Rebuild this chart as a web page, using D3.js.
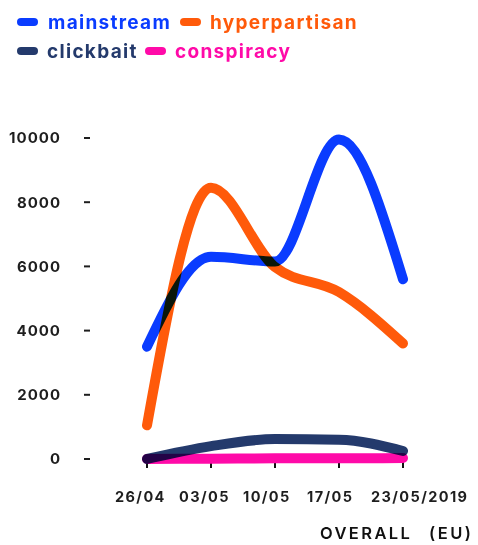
<!DOCTYPE html>
<html>
<head>
<meta charset="utf-8">
<script src="https://cdn.jsdelivr.net/npm/d3@7"></script>
<style>
  html, body { margin: 0; padding: 0; background: #fff; }
  svg { display: block; }
  .lbl { font-family: Inter, "DejaVu Sans", sans-serif; font-weight: 700; }
</style>
</head>
<body>
<svg id="chart" width="478" height="545"></svg>
<script>
const categories = ["26/04", "03/05", "10/05", "17/05", "23/05/2019"];
const seriesNames = ["mainstream", "hyperpartisan", "clickbait", "conspiracy"];
const mainstream = [3500, 6300, 6150, 9950, 5600];
const hyperpartisan = [1050, 8450, 5980, 5200, 3600];
const clickbait = [0, 400, 620, 600, 250];
const conspiracy = [0, 10, 20, 20, 30];
const yTicks = [0, 2000, 4000, 6000, 8000, 10000];
const colors = ["#0a3cff", "#ff5a0a", "#243a6c", "#ff0aa8"];
const titleParts = ["OVERALL", "(EU)"];

const seriesValues = [mainstream, hyperpartisan, clickbait, conspiracy];

const svg = d3.select("#chart");
const x = d3.scalePoint().domain(categories).range([147, 403]);
const y = d3.scaleLinear().domain([0, 10000]).range([459, 138]);

// Y axis labels and dash ticks
const yg = svg.append("g");
yTicks.forEach(t => {
  yg.append("text").attr("class", "lbl")
    .attr("x", 61).attr("y", y(t)).attr("dy", "0.36em")
    .attr("text-anchor", "end").attr("font-size", 15)
    .attr("letter-spacing", 1.0).attr("fill", "#1e1e1e").text(t);
  yg.append("line").attr("x1", 84).attr("x2", 90)
    .attr("y1", y(t)).attr("y2", y(t))
    .attr("stroke", "#1e1e1e").attr("stroke-width", 2);
});

// X axis ticks and labels
const xg = svg.append("g");
categories.forEach(c => {
  xg.append("line").attr("x1", x(c)).attr("x2", x(c))
    .attr("y1", y(0) + 1).attr("y2", y(0) + 9)
    .attr("stroke", "#111").attr("stroke-width", 2);
  xg.append("text").attr("class", "lbl")
    .attr("x", x(c) - 32).attr("y", 502)
    .attr("font-size", 14.5).attr("letter-spacing", 1.4)
    .attr("fill", "#1e1e1e").text(c);
});

// Lines
const line = d3.line()
  .x((d, i) => x(categories[i]))
  .y(d => y(d))
  .curve(d3.curveMonotoneX);

const lg = svg.append("g").style("isolation", "isolate");
seriesValues.forEach((vals, k) => {
  lg.append("path").datum(vals)
    .attr("d", line)
    .attr("fill", "none")
    .attr("stroke", colors[k])
    .attr("stroke-width", 10)
    .attr("stroke-linecap", "round")
    .attr("stroke-linejoin", "round")
    .style("mix-blend-mode", "multiply");
});

// Legend
const legendPos = [
  {sx: 17, tx: 48, y: 22},
  {sx: 180, tx: 210, y: 22},
  {sx: 17, tx: 47, y: 51},
  {sx: 145, tx: 175, y: 51}
];
seriesNames.forEach((n, k) => {
  const p = legendPos[k];
  svg.append("rect").attr("x", p.sx).attr("y", p.y - 4)
    .attr("width", 21).attr("height", 8).attr("rx", 4)
    .attr("fill", colors[k]);
  svg.append("text").attr("class", "lbl")
    .attr("x", p.tx).attr("y", p.y).attr("dy", "0.36em")
    .attr("font-size", 19).attr("letter-spacing", 1.3)
    .attr("fill", colors[k]).text(n);
});

// Title
const tt = svg.append("text")
  .attr("y", 539)
  .attr("font-family", "Inter, sans-serif")
  .attr("font-weight", 600)
  .attr("font-size", 16.5).attr("letter-spacing", 2.4)
  .attr("fill", "#111");
tt.append("tspan").attr("x", 320).text(titleParts[0]);
tt.append("tspan").attr("x", 429).text(titleParts[1]);
</script>
</body>
</html>
